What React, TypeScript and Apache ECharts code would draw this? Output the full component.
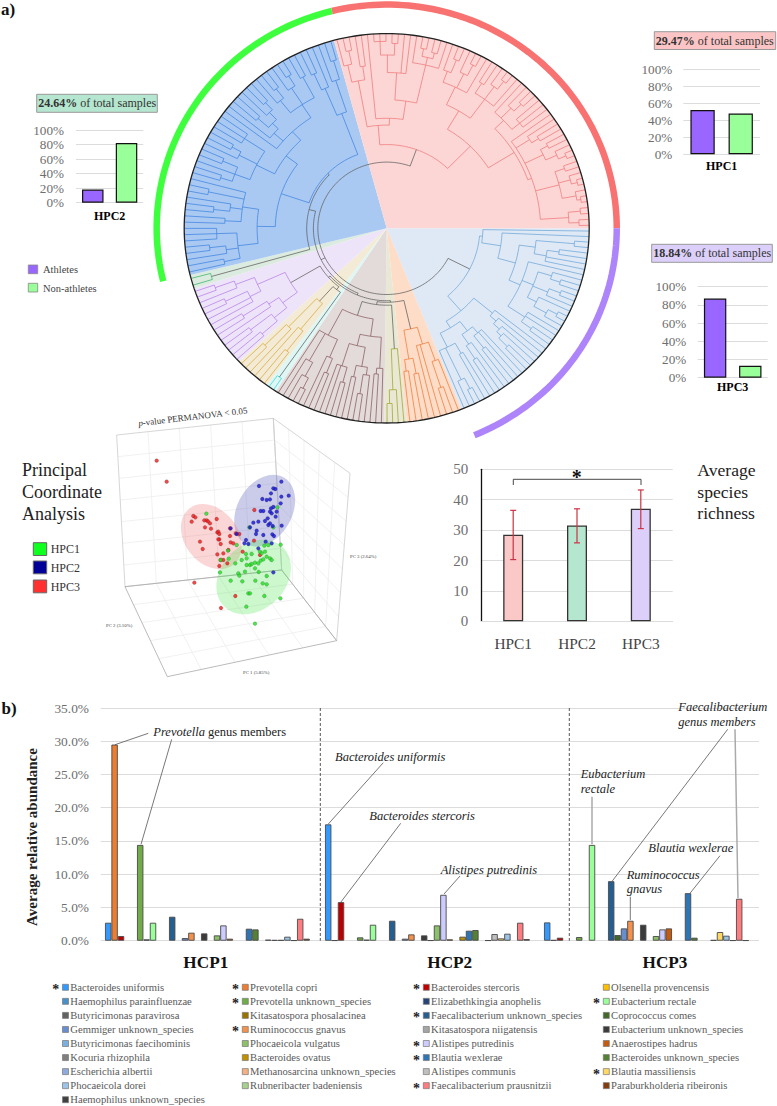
import React, { useEffect, useRef } from "react";
import * as echarts from "echarts";

const SERIF = '"Liberation Serif"';

// ---------- panel a: tree ----------
const cladeNames = ["hpc3", "orange", "olive", "brown", "cyan", "yellow", "lavender", "green", "blue", "pink"];
const cladeStart = [90, 158.35, 174.3, 180.7, 213.2, 216.3, 226.8, 252, 256.1, 344.9];
const cladeEnd = [158.35, 174.3, 180.7, 213.2, 216.3, 226.8, 252, 256.1, 344.9, 450];
const wedgeFill = ["#DEE9F5", "#FDDCC8", "#E9E8D4", "#E2DBD9", "#DEF7F5", "#F3EBD5", "#EEE4F9", "#DCEBDF", "#A9C9F2", "#FBD6D5"];
const branchColor = ["#6FA5D8", "#F07B35", "#A3A32A", "#8A5A5F", "#30D8D8", "#D8A838", "#B57FE8", "#3DB36B", "#3F84E0", "#F0787A"];
const ringSpans = [[256.3, 346.25], [346.25, 450], [90, 157.6]];
const ringColors = ["#3DFF3D", "#F87272", "#AE84FA"];

// a node is [radius, ...children]; 0 is a leaf at the rim
const treeHpc3: any = [.46,
  [.475, 0, [.57, 0, [.66,
    [.74, [.93, 0, 0], [.8, [.86, 0, 0], 0, 0]],
    [.72, 0, [.78, [.85, 0, [.9, 0, 0]], [.86, [.92, 0, 0], 0], [.83, 0, [.9, [.95, 0, 0], 0]]], [.82, 0, 0, [.88, 0, 0]]],
  ]]],
  [.56,
    [.68, 0, [.72, 0, [.76, 0, [.79, 0, [.85, 0, 0]]]]],
    [.6, [.66, [.7, 0, 0, [.78, 0, 0]], [.72, 0, [.8, 0, 0]]], [.68, [.74, 0, 0], [.86, [.92, 0, 0], 0], 0]],
  ],
];
const treeOrange: any = [.53, [.62, [.72, 0, [.86, 0, 0]], 0, 0], [.68, [.76, 0, 0], [.74, 0, 0]]];
const treeOlive: any = [.62, 0, [.83, 0, [.9, 0, 0]]];
const treeBrown: any = [.47,
  [.56, [.72, 0, [.75, 0, 0]], [.62, [.72, [.76, 0, [.86, 0, 0]], [.78, 0, 0]], [.74, [.82, 0, 0], 0, 0]]],
  [.62, [.72, [.8, 0, 0], 0], [.78, [.86, [.92, 0, 0], 0], 0], 0],
];
const treeCyan: any = [.93, 0, 0];
const treeYellow: any = [.5, [.67, [.8, 0, 0], 0], [.7, 0, [.85, 0, 0]]];
const treeLavender: any = [.55,
  [.64, [.72, [.82, 0, 0], [.85, 0, 0]], [.7, 0, [.84, 0, 0]]],
  [.7, [.76, 0, 0, [.88, 0, 0]], [.8, 0, [.9, 0, 0]]],
];
const treeGreen: any = [.9, 0, 0];
const treeBlue: any = [.405,
  [.55,
    [.64,
      [.74, [.82, 0, 0], [.8, 0, [.88, 0, 0]], [.84, 0, 0, 0]],
      [.72, [.8, 0, 0], [.78, [.86, 0, 0], 0], [.9, 0, 0], 0],
    ],
    [.62,
      [.72, [.8, [.86, 0, 0], 0, [.88, 0, 0]], [.82, 0, [.87, 0, 0]], [.84, 0, 0, 0]],
      [.68, 0, [.74, 0, [.78, [.85, 0, 0], [.83, 0, [.88, 0, 0]]]], [.76, [.84, 0, [.9, 0, 0]], [.86, 0, [.92, 0, 0]], [.88, 0, 0]]],
    ],
  ],
  [.63, [.78, [.87, 0, 0], 0], [.8, 0, [.9, 0, 0]]],
];
const treePink: any = [.43,
  [.53,
    [.77, [.86, 0, [.93, 0, 0]], [.84, 0, 0]],
    [.565, 0, [.66,
      [.8, [.89, [.96, 0, 0, 0], [.95, 0, 0]], 0, 0],
      [.86, 0, [.9, [.94, 0, 0], [.93, 0, 0]], 0],
    ]],
  ],
  [.59,
    [.7,
      [.8, [.86, 0, [.93, 0, 0]], [.88, 0, [.94, 0, 0]], 0],
      [.82, [.88, 0, 0], [.9, 0, [.95, 0, 0]], 0],
    ],
    [.74,
      [.8, 0, [.87, 0, [.92, 0, 0]], [.85, 0, 0, 0]],
      [.76, 0, [.84, 0, [.88, 0, 0]], [.86, [.9, 0, 0], [.92, 0, [.96, 0, 0]]],
        [.88, [.93, 0, 0], [.94, 0, [.97, 0, 0]], [.95, 0, [.97, 0, 0]]],
        [.9, [.96, 0, 0], [.95, 0, 0]],
      ],
    ],
  ],
];
const cladeTrees = [treeHpc3, treeOrange, treeOlive, treeBrown, treeCyan, treeYellow, treeLavender, treeGreen, treeBlue, treePink];
const rootTree: any = [.34, "hpc3",
  [.362,
    [.372,
      [.38, "orange", [.395, "olive", "brown"]],
      [.382, [.40, "brown2"], "lavender"],
    ],
    [.395, "green", "blue"],
  ],
  "pink",
];

// ---------- panel a: bars ----------
const groupShares = ["Athletes", "Non-athletes"];
const shareColors = ["#9966FF", "#99FF99"];
const hpc1Share = [52, 48];
const hpc2Share = [18, 82];
const hpc3Share = [87, 13];

// ---------- panel a: PCoA (read in projected picture units) ----------
const pcoaRed = [[440,152],[470,215],[553,518],[633,594],[676,558],[550,318],[556,322],[545,335],[583,331],[590,331],[594,334],[620,327],[600,340],[585,352],[603,356],[622,367],[625,365],[628,372],[660,355],[628,388],[570,395],[625,388],[660,378],[677,370],[688,372],[662,397],[670,400],[632,402],[578,417],[655,420],[622,433],[640,430],[632,450],[640,450],[652,460],[628,468],[750,435],[733,300],[698,425],[732,392]];
const pcoaGreen = [[589,311],[802,292],[790,352],[718,352],[812,404],[680,405],[654,422],[632,450],[656,446],[676,460],[630,487],[662,512],[697,514],[736,512],[758,520],[770,523],[770,498],[746,486],[735,475],[710,465],[720,465],[725,462],[735,458],[745,460],[752,452],[760,448],[770,440],[780,445],[785,450],[750,425],[755,430],[765,425],[708,432],[725,432],[710,445],[695,450],[685,490],[688,497],[705,485],[715,550],[720,550],[763,558],[811,565],[709,590],[735,641],[763,407],[775,405]];
const pcoaBlue = [[814,215],[747,228],[790,235],[796,237],[783,250],[770,270],[780,268],[757,267],[814,260],[836,257],[812,280],[752,303],[760,303],[783,295],[790,291],[780,305],[785,310],[800,305],[797,320],[773,325],[765,333],[745,335],[730,338],[780,340],[788,348],[815,347],[775,345],[720,352],[740,362],[738,372],[760,375],[787,373],[792,378],[680,372],[708,390],[703,400],[715,402],[745,415],[767,395],[785,400],[790,487],[662,355]];
// cx, cy, semi-major, semi-minor, rotation
const pcoaEllipses = [[764, 302, 115, 82, 60], [604, 380, 107, 80, -52], [731, 501, 125, 97, 45]];
const ellipseFill = ["rgba(95,100,190,0.33)", "rgba(240,90,90,0.25)", "rgba(70,230,70,0.27)"];
const boxWalls = [
  [[320, 75], [790, 25], [815, 480], [345, 530]],
  [[790, 25], [1020, 190], [980, 692], [815, 480]],
  [[345, 530], [815, 480], [980, 692], [472, 800]],
];
const wallDivisions = [[5, 7], [5, 7], [5, 5]];

// ---------- panel a: richness ----------
const richnessLabels = ["HPC1", "HPC2", "HPC3"];
const richnessValues = [28.5, 31.5, 37];
const richnessLow = [20.3, 25.8, 30.5];
const richnessHigh = [36.5, 37, 43.2];
const richnessColors = ["#FBC8C8", "#B5E6CF", "#DCD0FA"];

// ---------- panel b ----------
const speciesNames = [
  "Bacteroides uniformis", "Prevotella copri", "Bacteroides stercoris", "Olsenella provencensis",
  "Haemophilus parainfluenzae", "Prevotella unknown_species", "Elizabethkingia anophelis", "Eubacterium rectale",
  "Butyricimonas paravirosa", "Kitasatospora phosalacinea", "Faecalibacterium unknown_species", "Coprococcus comes",
  "Gemmiger unknown_species", "Ruminococcus gnavus", "Kitasatospora niigatensis", "Eubacterium unknown_species",
  "Butyricimonas faecihominis", "Phocaeicola vulgatus", "Alistipes putredinis", "Anaerostipes hadrus",
  "Kocuria rhizophila", "Bacteroides ovatus", "Blautia wexlerae", "Bacteroides unknown_species",
  "Escherichia albertii", "Methanosarcina unknown_species", "Alistipes communis", "Blautia massiliensis",
  "Phocaeicola dorei", "Rubneribacter badeniensis", "Faecalibacterium prausnitzii", "Paraburkholderia ribeironis",
  "Haemophilus unknown_species",
];
const speciesColors = [
  "#3399FF", "#ED7D31", "#C00000", "#FFC000",
  "#4A90C8", "#70AD47", "#264478", "#99FF99",
  "#636363", "#997300", "#255E91", "#43682B",
  "#698ED0", "#F4914D", "#A5A5A5", "#3B3B3B",
  "#7CAFDD", "#8CC168", "#CCCCFF", "#C55A11",
  "#7F7F7F", "#BF9000", "#2E75B6", "#548235",
  "#8FAADC", "#F4B183", "#BFBFBF", "#FFD966",
  "#9DC3E6", "#A9D18E", "#FF7C80", "#843C0C",
  "#404040",
];
const starredSpecies = [
  "Bacteroides uniformis", "Prevotella copri", "Prevotella unknown_species", "Ruminococcus gnavus",
  "Bacteroides stercoris", "Faecalibacterium unknown_species", "Alistipes putredinis", "Blautia wexlerae",
  "Faecalibacterium prausnitzii", "Eubacterium rectale", "Blautia massiliensis",
];
const _ = null;
const hcp1Values = [2.7, 29.5, .7, _, _, 14.4, .2, 2.7, _, _, 3.6, _, .4, 1.2, _, 1.1, _, .8, 2.3, .3, _, _, 1.8, 1.7, _, .15, .1, .1, .6, .05, 3.3, .3, _];
const hcp2Values = [17.5, .05, 5.8, _, _, .5, .15, 2.4, _, _, 3.0, _, .3, .95, _, .8, .05, 2.3, 6.9, .2, _, .6, 1.5, 1.6, _, .05, 1.0, .35, 1.05, _, 2.7, .25, _];
const hcp3Values = [2.75, .1, .45, _, _, .55, _, 14.4, _, _, 8.95, .85, 1.85, 3.0, _, 2.4, _, .7, 1.7, 1.85, _, _, 7.15, .45, _, _, .1, 1.3, .75, .05, 6.3, .05, _];

// ---------- tree layout in [radius, degrees] ----------
type Seg = { clade: number; pts: number[][] };
const treeSegs: Seg[] = [];
const arcPts = (r: number, a: number, b: number) => {
  const pts: number[][] = [];
  const n = Math.max(1, Math.ceil(Math.abs(b - a) / 1.5));
  for (let i = 0; i <= n; i++) pts.push([r, a + ((b - a) * i) / n]);
  return pts;
};
const countLeaves = (node: any): number => (node === 0 ? 1 : node.slice(1).reduce((s: number, c: any) => s + countLeaves(c), 0));
const layoutClade = (node: any, clade: number, state: { next: number; step: number }): [number, number] => {
  if (node === 0) {
    const a = state.next;
    state.next += state.step;
    return [1, a];
  }
  const kids = node.slice(1).map((c: any) => layoutClade(c, clade, state));
  const first = kids[0][1];
  const last = kids[kids.length - 1][1];
  treeSegs.push({ clade, pts: arcPts(node[0], first, last) });
  kids.forEach((k: number[]) => treeSegs.push({ clade, pts: [[node[0], k[1]], [k[0], k[1]]] }));
  return [node[0], (first + last) / 2];
};
const cladeRoots: Record<string, [number, number]> = {};
cladeTrees.forEach((tree, i) => {
  const step = (cladeEnd[i] - cladeStart[i]) / countLeaves(tree);
  cladeRoots[cladeNames[i]] = layoutClade(tree, i, { next: cladeStart[i] + step / 2, step });
});
const layoutRoot = (node: any): [number, number] => {
  if (typeof node === "string") return cladeRoots[node];
  const r = node[0];
  const kids = node.slice(1).map(layoutRoot).sort((a: number[], b: number[]) => a[1] - b[1]);
  const first = kids[0][1];
  const last = kids[kids.length - 1][1];
  treeSegs.push({ clade: 10, pts: arcPts(r, first, last) });
  kids.forEach((k: number[]) => treeSegs.push({ clade: 10, pts: [[r, k[1]], [k[0], k[1]]] }));
  return [r, (first + last) / 2];
};
// the cyan and yellow clades share one parent inside the left-hand group
rootTree[2][1][2][1] = [.40, "cyan", "yellow"];
layoutRoot(rootTree);

// ---------- helpers ----------
const text = (t: string, x: number, y: number, size: number, o: any = {}) => ({
  type: "text", x, y, silent: true, rotation: o.rotation || 0, z: o.z ?? 5,
  style: {
    text: t,
    font: `${o.style || "normal"} ${o.weight || "normal"} ${size}px ${SERIF}`,
    fill: o.fill || "#222",
    textAlign: o.align || "left",
    textVerticalAlign: "middle",
    rich: o.rich,
  },
});
const line = (x1: number, y1: number, x2: number, y2: number, stroke = "#555", lineWidth = 0.8, dash?: number[]) => ({
  type: "line", silent: true, z: 6, shape: { x1, y1, x2, y2 }, style: { stroke, lineWidth, lineDash: dash },
});
const box = (x: number, y: number, w: number, h: number, fill: string, stroke = "#999", lineWidth = 1) => ({
  type: "rect", silent: true, shape: { x, y, width: w, height: h }, style: { fill, stroke, lineWidth },
});
const tokens = (size: number, fill = "#222") => ({
  i: { font: `italic normal ${size}px ${SERIF}`, fill },
  n: { font: `normal normal ${size}px ${SERIF}`, fill },
  b: { font: `normal bold ${size}px ${SERIF}`, fill },
});

const tags = [
  ["24.64%", 36.7, 94.3, 120.6, 18, "#B5E6CF"],
  ["29.47%", 654.3, 31.7, 121.4, 17.8, "#FBC5C5"],
  ["18.84%", 651.7, 244.3, 120.6, 18, "#DCD0FA"],
] as const;

const barText = { color: "#6e6e6e", fontFamily: SERIF };

function smallBars(gridIndex: number, left: number, top: number, width: number, height: number, label: string, values: number[], barWidth: number, margin: number, labelMargin: number) {
  return {
    grid: { left, top, width, height },
    xAxis: {
      gridIndex, type: "category", data: [label], axisLine: { show: false }, axisTick: { show: false },
      axisLabel: { margin: labelMargin, fontFamily: SERIF, fontWeight: "bold", fontSize: 12, color: "#000" },
    },
    yAxis: {
      gridIndex, type: "value", min: 0, max: 100, interval: 20, axisLine: { show: false }, axisTick: { show: false },
      splitLine: { lineStyle: { color: "#dcdcdc", width: 1 } },
      axisLabel: { formatter: "{value}%", fontSize: 13.2, margin, ...barText },
    },
    series: values.map((v, i) => ({
      type: "bar", name: groupShares[i], xAxisIndex: gridIndex, yAxisIndex: gridIndex, data: [v], barWidth, barGap: "57%",
      itemStyle: { color: shareColors[i], borderColor: "#111", borderWidth: 1.2 },
    })),
  };
}

function buildOption() {
  const grids: any[] = [];
  const xAxes: any[] = [];
  const yAxes: any[] = [];
  const series: any[] = [];
  const push = (p: any) => {
    grids.push(p.grid);
    xAxes.push(p.xAxis);
    yAxes.push(p.yAxis);
    series.push(...p.series);
  };
  push(smallBars(0, 76, 130, 67.3, 72.7, "HPC2", hpc2Share, 21.5, 12, 7));
  push(smallBars(1, 683.3, 69.3, 76.7, 85, "HPC1", hpc1Share, 24.3, 11, 5.4));
  push(smallBars(2, 697.7, 286.7, 70, 91, "HPC3", hpc3Share, 22.4, 11.4, 3.6));

  // richness (index 3)
  grids.push({ left: 481.3, top: 469.3, width: 191.4, height: 152 });
  xAxes.push({
    gridIndex: 3, type: "category", data: richnessLabels, axisLine: { lineStyle: { color: "#dcdcdc" } }, axisTick: { show: false },
    axisLabel: { margin: 15, fontSize: 15.4, fontFamily: SERIF, color: "#444" },
  });
  yAxes.push({
    gridIndex: 3, type: "value", min: 0, max: 50, interval: 10,
    axisLine: { show: true, lineStyle: { color: "#111", width: 1.3 } }, axisTick: { show: false },
    splitLine: { lineStyle: { color: "#dcdcdc", width: 1.2 } },
    axisLabel: { fontSize: 15, margin: 13, ...barText },
  });
  series.push({
    type: "bar", xAxisIndex: 3, yAxisIndex: 3, barWidth: 20,
    data: richnessValues.map((v, i) => ({ value: v, itemStyle: { color: richnessColors[i] } })),
    itemStyle: { borderColor: "#333", borderWidth: 1.3 },
  });
  series.push({
    type: "custom", xAxisIndex: 3, yAxisIndex: 3, z: 5,
    data: richnessLabels.map((_n, i) => [i, richnessLow[i], richnessHigh[i]]),
    renderItem: (_p: any, api: any) => {
      const lo = api.coord([api.value(0), api.value(1)]);
      const hi = api.coord([api.value(0), api.value(2)]);
      const st = { stroke: "#CC3344", lineWidth: 1.2 };
      return {
        type: "group", children: [
          { type: "line", shape: { x1: lo[0], y1: lo[1], x2: hi[0], y2: hi[1] }, style: st },
          { type: "line", shape: { x1: lo[0] - 3, y1: lo[1], x2: lo[0] + 3, y2: lo[1] }, style: st },
          { type: "line", shape: { x1: hi[0] - 3, y1: hi[1], x2: hi[0] + 3, y2: hi[1] }, style: st },
        ],
      };
    },
  });

  // PCoA (index 4): picture units, one unit = 1/3 px
  grids.push({ left: 10, top: 410, width: 400, height: 270 });
  xAxes.push({ gridIndex: 4, type: "value", min: 0, max: 1200, show: false });
  yAxes.push({ gridIndex: 4, type: "value", min: 0, max: 810, inverse: true, show: false });
  series.push({
    type: "custom", xAxisIndex: 4, yAxisIndex: 4, z: 1, silent: true,
    data: boxWalls.map((w) => w[0]),
    renderItem: (p: any, api: any) => {
      const i = p.dataIndex;
      const w = boxWalls[i].map((c) => api.coord(c));
      const [nu, nv] = wallDivisions[i];
      const mix = (a: number[], b: number[], t: number) => [a[0] + (b[0] - a[0]) * t, a[1] + (b[1] - a[1]) * t];
      const children: any[] = [];
      const st = { stroke: "#ebebeb", lineWidth: 0.7, fill: "none" };
      for (let k = 1; k < nu; k++) children.push({ type: "polyline", shape: { points: [mix(w[0], w[1], k / nu), mix(w[3], w[2], k / nu)] }, style: st });
      for (let k = 1; k < nv; k++) children.push({ type: "polyline", shape: { points: [mix(w[0], w[3], k / nv), mix(w[1], w[2], k / nv)] }, style: st });
      children.push({ type: "polyline", shape: { points: [...w, w[0]] }, style: { stroke: i === 2 ? "#aaaaaa" : "#cccccc", lineWidth: 0.8, fill: "none" } });
      return { type: "group", children };
    },
  });
  series.push({
    type: "custom", xAxisIndex: 4, yAxisIndex: 4, z: 2, silent: true,
    data: pcoaEllipses,
    renderItem: (p: any, api: any) => {
      const e = pcoaEllipses[p.dataIndex];
      const c = api.coord([e[0], e[1]]);
      const s = api.size([1, 1]);
      return {
        type: "ellipse", x: c[0], y: c[1], rotation: (e[4] * Math.PI) / 180,
        shape: { cx: 0, cy: 0, rx: e[2] * s[0], ry: e[3] * s[1] },
        style: { fill: ellipseFill[p.dataIndex] },
      };
    },
  });
  [[pcoaRed, "#EE1C1C"], [pcoaGreen, "#22DD22"], [pcoaBlue, "#1414D2"]].forEach(([d, c]: any) => {
    series.push({
      type: "scatter", xAxisIndex: 4, yAxisIndex: 4, z: 3, data: d, symbolSize: 3.8,
      itemStyle: { color: c, borderColor: "rgba(40,40,40,0.55)", borderWidth: 0.4 },
    });
  });

  // panel b background (index 5) then one axis per group (6..8)
  grids.push({ left: 100.7, top: 708, width: 658.3, height: 232.7 });
  xAxes.push({ gridIndex: 5, type: "category", data: ["HCP1", "HCP2", "HCP3"], show: false });
  yAxes.push({
    gridIndex: 5, type: "value", min: 0, max: 35, interval: 5, axisLine: { show: false }, axisTick: { show: false },
    splitLine: { lineStyle: { color: "#dcdcdc", width: 1 } },
    axisLabel: { formatter: (v: number) => v.toFixed(1) + "%", fontSize: 13.4, margin: 11.7, ...barText },
  });
  [[hcp1Values, 105], [hcp2Values, 325], [hcp3Values, 544]].forEach(([vals, left]: any, g) => {
    const gi = 6 + g;
    grids.push({ left, top: 708, width: 6.4 * 33, height: 232.7 });
    xAxes.push({ gridIndex: gi, type: "category", data: speciesNames, show: false });
    yAxes.push({ gridIndex: gi, type: "value", min: 0, max: 35, show: false });
    series.push({
      type: "bar", xAxisIndex: gi, yAxisIndex: gi, barWidth: 6.4, z: 3,
      data: vals.map((v: number | null, i: number) => ({ value: v, itemStyle: { color: speciesColors[i] } })),
      itemStyle: { borderColor: "#4a4a4a", borderWidth: 0.9 },
    });
  });

  // tree on a polar system; the picture's circle is slightly flattened
  const cx = 386.7;
  const cy = 228.3;
  const TREE_FLAT = 0.9615;
  const RING_FLAT = 0.9726;
  const at = (api: any, r: number, deg: number, flat: number) => {
    const p = api.coord([r, ((deg % 360) + 360) % 360]);
    return [p[0], cy + (p[1] - cy) * flat];
  };
  series.push({
    type: "custom", coordinateSystem: "polar", polarIndex: 0, z: 1, silent: true,
    encode: { radius: 0, angle: 1 },
    data: [...cladeNames.map((_n, i) => [1, cladeStart[i] % 360]), [1, 0]],
    renderItem: (p: any, api: any) => {
      const i = p.dataIndex;
      const children: any[] = [];
      if (i < 10) {
        const pts = [[cx, cy]];
        arcPts(1, cladeStart[i], cladeEnd[i]).forEach((q) => pts.push(at(api, q[0], q[1], TREE_FLAT)));
        children.push({ type: "polygon", shape: { points: pts }, style: { fill: wedgeFill[i] } });
      }
      treeSegs.filter((s) => s.clade === i).forEach((s) => {
        children.push({
          type: "polyline",
          shape: { points: s.pts.map((q) => at(api, q[0], q[1], TREE_FLAT)) },
          style: { stroke: i < 10 ? branchColor[i] : "#5f5f5f", lineWidth: 0.75, fill: "none" },
        });
      });
      if (i === 10) {
        children.push({
          type: "polyline",
          shape: { points: arcPts(1, 0, 360).map((q) => at(api, q[0], q[1], TREE_FLAT)) },
          style: { stroke: "#222", lineWidth: 1.3, fill: "none" },
        });
      }
      return { type: "group", children };
    },
  });
  series.push({
    type: "custom", coordinateSystem: "polar", polarIndex: 0, z: 1, silent: true,
    encode: { radius: 0, angle: 1 },
    data: ringSpans.map((s) => [1.136, s[0] % 360]),
    renderItem: (p: any, api: any) => {
      const s = ringSpans[p.dataIndex];
      return {
        type: "polyline",
        shape: { points: arcPts(1.136, s[0], s[1]).map((q) => at(api, q[0], q[1], RING_FLAT)) },
        style: { stroke: ringColors[p.dataIndex], lineWidth: 6.5, fill: "none" },
      };
    },
  });

  // graphics
  const g: any[] = [];
  g.push(text("a)", 1, 9.5, 17, { weight: "bold", fill: "#111" }));
  g.push(text("b)", 1.5, 708, 17, { weight: "bold", fill: "#111" }));
  tags.forEach(([v, x, y, w, h, fill]) => {
    g.push(box(x, y, w, h, fill));
    g.push(text(`{b|${v}}{n| of total samples}`, x + 1.5, y + h / 2, 12, { rich: tokens(12, "#333") }));
  });
  g.push(box(28.3, 265, 9.4, 8.7, shareColors[0], "#888", 0.8));
  g.push(box(28.3, 283.3, 9.4, 8.7, shareColors[1], "#888", 0.8));
  g.push(text(groupShares[0], 43, 269.5, 10.5, { fill: "#444" }));
  g.push(text(groupShares[1], 43, 288, 10.5, { fill: "#444" }));

  g.push(text("{i|p}{n|-value PERMANOVA < 0.05}", 138.3, 423.3, 9, { rotation: (6.8 * Math.PI) / 180, rich: tokens(9, "#333") }));
  g.push(text("PC 2 (3.10%)", 106, 625, 4.8, { fill: "#444" }));
  g.push(text("PC 1 (5.85%)", 243, 672, 4.8, { fill: "#444" }));
  g.push(text("PC 3 (2.64%)", 350, 556, 4.8, { fill: "#444" }));
  ["Principal", "Coordinate", "Analysis"].forEach((s, i) => g.push(text(s, 22, 470 + 22 * i, 18)));
  const pcoaLegend = [["HPC1", "#0FFF1F", 542.7], ["HPC2", "#000099", 561], ["HPC3", "#FF3030", 580]] as const;
  pcoaLegend.forEach(([n, c, y]) => {
    g.push(box(33.3, y, 13.4, 12.8, c, "#666", 1));
    g.push(text(n, 50.7, y + 6.5, 12, { fill: "#333" }));
  });

  ["Average", "species", "richness"].forEach((s, i) => g.push(text(s, 697.3, 470 + 21.5 * i, 17.6)));
  g.push({
    type: "polyline", silent: true, z: 6,
    shape: { points: [[513.3, 485], [513.3, 479.3], [641, 479.3], [641, 485]] },
    style: { stroke: "#333", lineWidth: 0.9, fill: "none" },
  });
  g.push(text("*", 576.7, 477, 20, { weight: "bold", align: "center", fill: "#111" }));

  g.push(text("Average relative abundance", 32.3, 837, 15, { weight: "bold", align: "center", rotation: Math.PI / 2 }));
  g.push(line(320.3, 708, 320.3, 940.7, "#555", 1, [3, 2]));
  g.push(line(569.3, 708, 569.3, 940.7, "#555", 1, [3, 2]));
  g.push(text("HCP1", 205.8, 962, 17.2, { weight: "bold", align: "center", fill: "#111" }));
  g.push(text("HCP2", 449.7, 962, 17.2, { weight: "bold", align: "center", fill: "#111" }));
  g.push(text("HCP3", 665, 962, 17.2, { weight: "bold", align: "center", fill: "#111" }));

  g.push(text("{i|Prevotella}{n| genus members}", 153.3, 732.3, 12.5, { rich: tokens(12.5) }));
  g.push(line(115, 744.7, 148.3, 733.3));
  g.push(line(141, 844.3, 171.7, 739.3));
  g.push(text("Bacteroides uniformis", 335, 756.7, 12.5, { style: "italic" }));
  g.push(line(328.3, 824, 383.3, 762.7));
  g.push(text("Bacteroides stercoris", 369.3, 815.7, 12.5, { style: "italic" }));
  g.push(line(340.7, 902.3, 400.7, 823.3));
  g.push(text("Alistipes putredinis", 440.7, 870, 12.5, { style: "italic" }));
  g.push(line(444, 894, 460, 876));
  g.push(text("Eubacterium", 580.7, 774.3, 12.5, { style: "italic" }));
  g.push(text("rectale", 580.7, 789, 12.5, { style: "italic" }));
  g.push(line(592, 796.7, 592, 844.3, "#aaa", 1.5));
  g.push(text("Faecalibacterium", 678.3, 707, 12.5, { style: "italic" }));
  g.push(text("genus members", 678.3, 721.7, 12.5, { style: "italic" }));
  g.push(line(727.7, 729.3, 612.3, 881));
  g.push(line(735, 729.3, 738, 898.3, "#aaa", 1.5));
  g.push(text("Blautia wexlerae", 648.3, 848.3, 12.5, { style: "italic" }));
  g.push(line(720, 855.7, 690, 893.3));
  g.push(text("Ruminococcus", 626.7, 874.7, 12.5, { style: "italic" }));
  g.push(text("gnavus", 626.7, 889.3, 12.5, { style: "italic" }));
  g.push(line(630.3, 896.7, 630.3, 920));

  const swatchX = [62.5, 242.3, 423.3, 603.3];
  speciesNames.forEach((name, i) => {
    const col = i % 4;
    const row = Math.floor(i / 4);
    const y = 987.3 + row * 14.05;
    g.push(box(swatchX[col], y - 3, 6, 6, speciesColors[i], "#777", 0.7));
    g.push(text(name, swatchX[col] + 7.8, y, 10.6, { fill: "#595959" }));
    if (starredSpecies.includes(name)) g.push(text("*", swatchX[col] - 6.8, y + 2.5, 14, { weight: "bold", align: "center", fill: "#222" }));
  });

  return {
    animation: false,
    backgroundColor: "#fff",
    polar: { center: [cx, cy], radius: 243 },
    angleAxis: { type: "value", min: 0, max: 360, startAngle: 90, show: false },
    radiusAxis: { type: "value", min: 0, max: 1.2, show: false },
    grid: grids,
    xAxis: xAxes,
    yAxis: yAxes,
    series,
    graphic: g,
  };
}

export default function App() {
  const ref = useRef<HTMLDivElement>(null);
  useEffect(() => {
    const chart = echarts.init(ref.current!, undefined, { renderer: "svg" });
    chart.setOption(buildOption() as any);
    return () => chart.dispose();
  }, []);
  return <div ref={ref} style={{ position: "absolute", left: 0, top: 0, width: 777, height: 1106 }} />;
}
